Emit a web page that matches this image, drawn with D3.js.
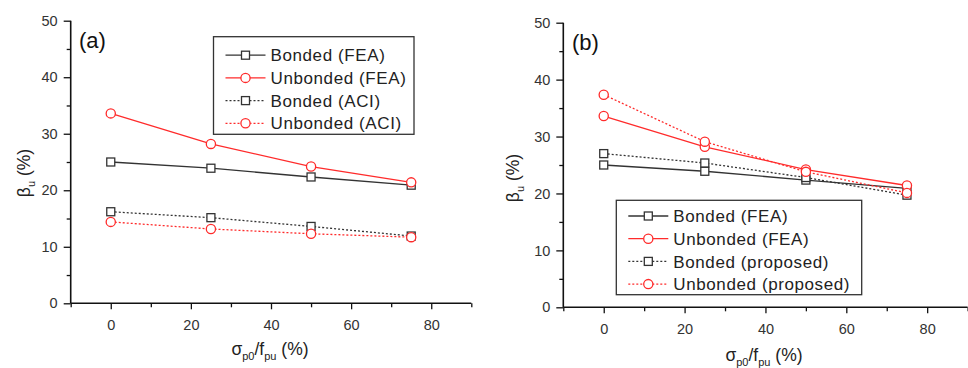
<!DOCTYPE html>
<html>
<head>
<meta charset="utf-8">
<script src="https://cdn.jsdelivr.net/npm/d3@7"></script>
<style>
  html, body { margin: 0; padding: 0; background: #fff; }
  svg { display: block; font-family: "Liberation Sans", Arial, sans-serif; }
</style>
</head>
<body>
<svg id="chart" width="968" height="368"></svg>
<script>
// Prestress ratio sigma_p0 / f_pu (%)
const prestress = [0, 25, 50, 75];

// Panel (a): FEA vs ACI
const bondedFEA = [25.0, 23.9, 22.35, 20.9];
const unbondedFEA = [33.6, 28.2, 24.2, 21.4];
const bondedACI = [16.2, 15.15, 13.6, 11.9];
const unbondedACI = [14.4, 13.15, 12.3, 11.7];

// Panel (b): FEA vs proposed
const bondedProposed = [27.0, 25.35, 22.8, 19.7];
const unbondedProposed = [37.35, 29.1, 23.8, 20.1];

// Axis ticks
const xMajorTicks = [0, 20, 40, 60, 80];
const xMinorTicks = [-10, 10, 30, 50, 70, 90];
const yMajorTicks = [0, 10, 20, 30, 40, 50];
const yMinorTicks = [5, 15, 25, 35, 45];

const labelsA = ["Bonded (FEA)", "Unbonded (FEA)", "Bonded (ACI)", "Unbonded (ACI)"];
const labelsB = ["Bonded (FEA)", "Unbonded (FEA)", "Bonded (proposed)", "Unbonded (proposed)"];

const BLACK = "#333";
const RED = "#ff2b2b";

const svg = d3.select("#chart");

function seriesStyle(i) {
  return {
    color: (i % 2 === 0) ? BLACK : RED,
    shape: (i % 2 === 0) ? "square" : "circle",
    dash: i < 2 ? null : "2,2"
  };
}

function drawMarker(g, shape, cx, cy, color) {
  if (shape === "square") {
    g.append("rect")
      .attr("x", cx - 4).attr("y", cy - 4)
      .attr("width", 8).attr("height", 8)
      .attr("fill", "#fff").attr("stroke", color).attr("stroke-width", 1.3);
  } else {
    g.append("circle")
      .attr("cx", cx).attr("cy", cy).attr("r", 4.6)
      .attr("fill", "#fff").attr("stroke", color).attr("stroke-width", 1.3);
  }
}

function drawPanel(p) {
  const x = d3.scaleLinear().domain([-10, 90]).range(p.xRange);
  const y = d3.scaleLinear().domain([0, 50]).range(p.yRange);
  const g = svg.append("g");
  const axisColor = "#111";
  const tickText = "#333";

  // X axis
  const xAxis = g.append("g").attr("transform", `translate(0,${p.yRange[0]})`)
    .call(d3.axisBottom(x).tickValues(xMajorTicks).tickSize(6).tickPadding(10).tickFormat(d3.format("d")));
  xAxis.select(".domain").attr("d", `M${p.xRange[0]},0H${p.xRange[1]}`);
  const xMinor = g.append("g").attr("transform", `translate(0,${p.yRange[0]})`)
    .call(d3.axisBottom(x).tickValues(xMinorTicks).tickSize(4).tickFormat(""));
  xMinor.select(".domain").remove();

  // Y axis
  const yAxis = g.append("g").attr("transform", `translate(${p.xRange[0]},0)`)
    .call(d3.axisLeft(y).tickValues(yMajorTicks).tickSize(7).tickPadding(6).tickFormat(d3.format("d")));
  yAxis.select(".domain").attr("d", `M0,${p.yRange[0]}V${p.yRange[1]}`);
  const yMinor = g.append("g").attr("transform", `translate(${p.xRange[0]},0)`)
    .call(d3.axisLeft(y).tickValues(yMinorTicks).tickSize(4).tickFormat(""));
  yMinor.select(".domain").remove();

  g.selectAll(".domain").attr("stroke", axisColor).attr("stroke-width", 1.6);
  g.selectAll(".tick line").attr("stroke", axisColor).attr("stroke-width", 1.3);
  g.selectAll(".tick text").attr("fill", tickText).attr("font-size", 14.5)
    .attr("font-family", "'Liberation Sans', Arial, sans-serif");

  // Axis titles
  const xt = g.append("text")
    .attr("x", p.xTitle[0]).attr("y", p.xTitle[1])
    .attr("text-anchor", "middle").attr("font-size", 17.5).attr("fill", "#222");
  xt.append("tspan").text("σ");
  xt.append("tspan").attr("font-size", 11).attr("dy", 5).text("p0");
  xt.append("tspan").attr("dy", -5).text("/f");
  xt.append("tspan").attr("font-size", 11).attr("dy", 5).text("pu");
  xt.append("tspan").attr("dy", -5).text(" (%)");

  const yt = g.append("text")
    .attr("transform", `translate(${p.yTitle[0]},${p.yTitle[1]}) rotate(-90)`)
    .attr("text-anchor", "middle").attr("font-size", 17.5).attr("fill", "#222");
  yt.append("tspan").text("β");
  yt.append("tspan").attr("font-size", 11).attr("dy", 5).text("u");
  yt.append("tspan").attr("dy", -5).text(" (%)");

  // Panel tag
  g.append("text").attr("x", p.tag[0]).attr("y", p.tag[1])
    .attr("font-size", 22).attr("fill", "#111").text(p.tagText);

  // Series
  const line = d3.line().x((d, i) => x(prestress[i])).y(d => y(d));
  p.series.forEach((vals, i) => {
    const s = seriesStyle(i);
    const sg = g.append("g");
    sg.append("path").attr("d", line(vals))
      .attr("fill", "none").attr("stroke", s.color).attr("stroke-width", 1.3)
      .attr("stroke-dasharray", s.dash);
    vals.forEach((v, j) => drawMarker(sg, s.shape, x(prestress[j]), y(v), s.color));
  });

  // Legend
  const L = p.legend;
  const lg = g.append("g");
  lg.append("rect").attr("x", L.x).attr("y", L.y).attr("width", L.w).attr("height", L.h)
    .attr("fill", "#fff").attr("stroke", "#333").attr("stroke-width", 1.3);
  p.labels.forEach((lab, i) => {
    const s = seriesStyle(i);
    const cy = L.y + L.first + i * L.step;
    const x0 = L.x + 12, x1 = x0 + 40, cx = (x0 + x1) / 2;
    lg.append("line").attr("x1", x0).attr("x2", x1).attr("y1", cy).attr("y2", cy)
      .attr("stroke", s.color).attr("stroke-width", 1.3).attr("stroke-dasharray", s.dash);
    drawMarker(lg, s.shape, cx, cy, s.color);
    lg.append("text").attr("x", x1 + 5).attr("y", cy).attr("dy", "0.36em")
      .attr("font-size", 17).attr("letter-spacing", 0.6).attr("fill", "#222").text(lab);
  });
}

drawPanel({
  xRange: [70.7, 471.3],
  yRange: [303.3, 20.7],
  xTitle: [270, 355],
  yTitle: [30, 173],
  tag: [79, 48],
  tagText: "(a)",
  series: [bondedFEA, unbondedFEA, bondedACI, unbondedACI],
  labels: labelsA,
  legend: { x: 213.5, y: 36.7, w: 200.5, h: 97.6, first: 18.5, step: 22.7 }
});

drawPanel({
  xRange: [563.3, 967.6],
  yRange: [307.3, 22.7],
  xTitle: [764, 361],
  yTitle: [519, 178],
  tag: [572, 50],
  tagText: "(b)",
  series: [bondedFEA, unbondedFEA, bondedProposed, unbondedProposed],
  labels: labelsB,
  legend: { x: 616.3, y: 200.3, w: 245.4, h: 94.4, first: 15.7, step: 22.7 }
});
</script>
</body>
</html>
